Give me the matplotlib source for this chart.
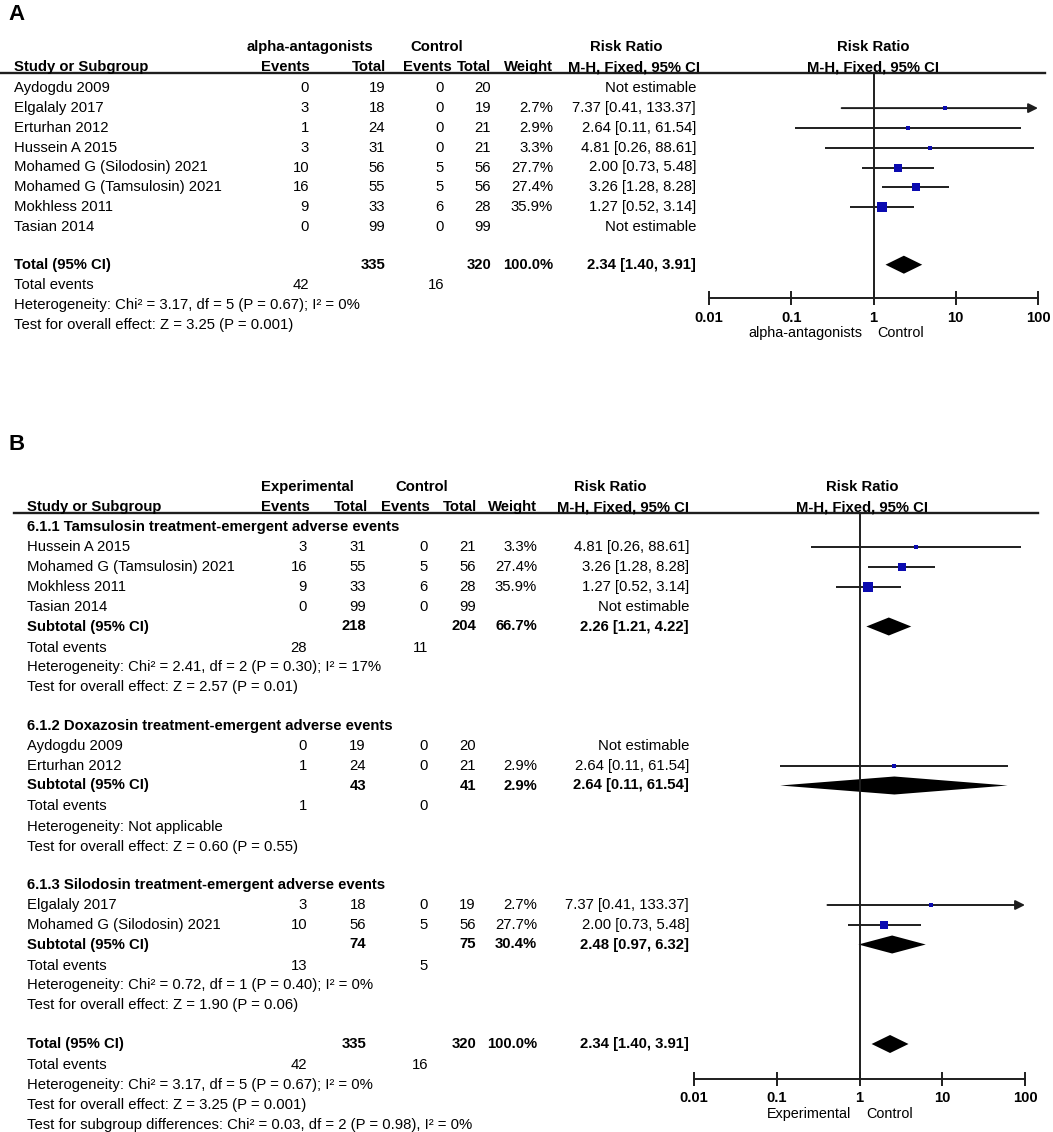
import numpy as np
import matplotlib
matplotlib.use("Agg")
import matplotlib.pyplot as plt

plt.rcParams['font.family'] = ['Liberation Sans', 'DejaVu Sans']

# ---- data (same 8 studies feed both panels) ----
study = ["Aydogdu 2009", "Elgalaly 2017", "Erturhan 2012", "Hussein A 2015",
         "Mohamed G (Silodosin) 2021", "Mohamed G (Tamsulosin) 2021",
         "Mokhless 2011", "Tasian 2014"]
ev_t = [0, 3, 1, 3, 10, 16, 9, 0]
tot_t = [19, 18, 24, 31, 56, 55, 33, 99]
ev_c = [0, 0, 0, 0, 5, 5, 6, 0]
tot_c = [20, 19, 21, 21, 56, 56, 28, 99]
weight = [None, 2.7, 2.9, 3.3, 27.7, 27.4, 35.9, None]
rr = [None, 7.37, 2.64, 4.81, 2.00, 3.26, 1.27, None]
rr_lo = [None, 0.41, 0.11, 0.26, 0.73, 1.28, 0.52, None]
rr_hi = [None, 133.37, 61.54, 88.61, 5.48, 8.28, 3.14, None]

sub_names = ["6.1.1 Tamsulosin treatment-emergent adverse events",
             "6.1.2 Doxazosin treatment-emergent adverse events",
             "6.1.3 Silodosin treatment-emergent adverse events"]
sub_members = [[3, 5, 6, 7], [0, 2], [1, 4]]
sub_tot_t = [218, 43, 74]
sub_tot_c = [204, 41, 75]
sub_weight = [66.7, 2.9, 30.4]
sub_rr = [2.26, 2.64, 2.48]
sub_lo = [1.21, 0.11, 0.97]
sub_hi = [4.22, 61.54, 6.32]
sub_ev_t = [28, 1, 13]
sub_ev_c = [11, 0, 5]
sub_het = ["Heterogeneity: Chi² = 2.41, df = 2 (P = 0.30); I² = 17%",
           "Heterogeneity: Not applicable",
           "Heterogeneity: Chi² = 0.72, df = 1 (P = 0.40); I² = 0%"]
sub_z = ["Test for overall effect: Z = 2.57 (P = 0.01)",
         "Test for overall effect: Z = 0.60 (P = 0.55)",
         "Test for overall effect: Z = 1.90 (P = 0.06)"]

total_t, total_c, total_w = 335, 320, 100.0
total_rr, total_lo, total_hi = 2.34, 1.40, 3.91
total_ev_t, total_ev_c = 42, 16
total_het = "Heterogeneity: Chi² = 3.17, df = 5 (P = 0.67); I² = 0%"
total_z = "Test for overall effect: Z = 3.25 (P = 0.001)"
subgroup_diff = "Test for subgroup differences: Chi² = 0.03, df = 2 (P = 0.98), I² = 0%"

xticks = [0.01, 0.1, 1, 10, 100]
xtick_labels = ["0.01", "0.1", "1", "10", "100"]

W, H = 1053, 1132
FS = 10.7
BLUE = '#0b0bb0'
LINE = '#1e1e1e'
LW = 1.4

fig = plt.figure(figsize=(W / 100, H / 100), dpi=100)
bg = fig.add_axes([0, 0, 1, 1])
bg.set_xlim(0, W)
bg.set_ylim(H, 0)
bg.axis('off')


def txt(x, y, s, ha='left', bold=False, size=FS):
    bg.text(x, y, s, ha=ha, va='center', fontsize=size,
            fontweight='bold' if bold else 'normal', color='black')


def ci_text(r, lo, hi):
    return f"{r:.2f} [{lo:.2f}, {hi:.2f}]"


def forest_axes(x0, x1, ytop, ybot, lab_y, left_lab, lab_mid):
    ax = fig.add_axes([x0 / W, 1 - ybot / H, (x1 - x0) / W, (ybot - ytop) / H])
    ax.set_xscale('log')
    ax.set_xlim(0.01, 100)
    ax.set_ylim(ybot, ytop)
    ax.patch.set_alpha(0)
    for s in ['top', 'left', 'right']:
        ax.spines[s].set_visible(False)
    ax.spines['bottom'].set_linewidth(LW)
    ax.spines['bottom'].set_color(LINE)
    ax.set_yticks([])
    ax.set_xticks(xticks)
    ax.set_xticklabels(xtick_labels, fontweight='bold', fontsize=FS)
    ax.xaxis.set_minor_locator(matplotlib.ticker.NullLocator())
    ax.tick_params(axis='x', direction='inout', length=10, width=LW,
                   color=LINE, pad=4)
    ax.axvline(1, color=LINE, lw=LW)
    txt(lab_mid - 8, lab_y, left_lab, ha='right', size=FS - 0.3)
    txt(lab_mid + 7, lab_y, "Control", size=FS - 0.3)
    return ax


def study_marks(ax, y, i):
    if rr[i] is None:
        return
    if rr_hi[i] > 100:
        ax.annotate('', xy=(100, y), xytext=(rr_lo[i], y), annotation_clip=False,
                    arrowprops=dict(arrowstyle='-|>', lw=LW, color=LINE,
                                    mutation_scale=14, shrinkA=0, shrinkB=0))
    else:
        ax.hlines(y, rr_lo[i], rr_hi[i], color=LINE, lw=LW)
    side = max(1.65 * np.sqrt(weight[i]), 4.0) * 0.72
    ax.scatter([rr[i]], [y], marker='s', s=side ** 2, color=BLUE,
               linewidths=0, zorder=3)


def diamond(ax, y, r, lo, hi, half=9):
    ax.fill([lo, r, hi, r], [y, y - half, y, y + half], color='black', lw=0)


def study_row(y, i, cols):
    txt(cols[0], y, study[i])
    txt(cols[1], y, str(ev_t[i]), 'right')
    txt(cols[2], y, str(tot_t[i]), 'right')
    txt(cols[3], y, str(ev_c[i]), 'right')
    txt(cols[4], y, str(tot_c[i]), 'right')
    if weight[i] is not None:
        txt(cols[5], y, f"{weight[i]:.1f}%", 'right')
        txt(cols[6], y, ci_text(rr[i], rr_lo[i], rr_hi[i]), 'right')
    else:
        txt(cols[6], y, "Not estimable", 'right')


def header(y1, y2, cols, hcols, grp_lab, grp_c, ctl_c, rr_c, fr_c, line_x0, line_x1):
    txt(grp_c, y1, grp_lab, 'center', True)
    txt(ctl_c, y1, "Control", 'center', True)
    txt(rr_c, y1, "Risk Ratio", 'center', True)
    txt(fr_c, y1, "Risk Ratio", 'center', True)
    txt(cols[0], y2, "Study or Subgroup", bold=True)
    for x, s in zip(hcols, ["Events", "Total", "Events", "Total", "Weight",
                            "M-H, Fixed, 95% CI"]):
        txt(x, y2, s, 'right', True)
    txt(fr_c, y2, "M-H, Fixed, 95% CI", 'center', True)
    bg.plot([line_x0, line_x1], [y2 + 5.5, y2 + 5.5], color=LINE, lw=1.7)


# ---------------- Panel A ----------------
txt(8, 15, "A", bold=True, size=16)
colsA = [14, 309, 385, 444, 491, 553, 696]
hcolsA = [310, 386, 452, 491, 553, 700]
header(47, 67, colsA, hcolsA, "alpha-antagonists", 310, 437, 626, 873, 0, 1045)
axA = forest_axes(709, 1038, 72.5, 298, 333, "alpha-antagonists", 870)

y = 88.3
for i in range(len(study)):
    study_row(y, i, colsA)
    study_marks(axA, y, i)
    y += 19.8
y += 18
txt(colsA[0], y, "Total (95% CI)", bold=True)
txt(colsA[2], y, str(total_t), 'right', True)
txt(colsA[4], y, str(total_c), 'right', True)
txt(colsA[5], y, f"{total_w:.1f}%", 'right', True)
txt(colsA[6], y, ci_text(total_rr, total_lo, total_hi), 'right', True)
diamond(axA, y, total_rr, total_lo, total_hi)
y += 20.5
txt(colsA[0], y, "Total events")
txt(colsA[1], y, str(total_ev_t), 'right')
txt(colsA[3], y, str(total_ev_c), 'right')
y += 20
txt(colsA[0], y, total_het)
y += 20
txt(colsA[0], y, total_z)

# ---------------- Panel B ----------------
txt(8, 445, "B", bold=True, size=16)
colsB = [27, 307, 366, 428, 476, 537, 689]
hcolsB = [310, 368, 430, 477, 537, 689]
header(487, 507, colsB, hcolsB, "Experimental", 307, 422, 610, 862, 14, 1038)
axB = forest_axes(694, 1025, 512.5, 1079, 1114, "Experimental", 859)

y = 527
for g in range(len(sub_names)):
    txt(colsB[0], y, sub_names[g], bold=True)
    for i in sub_members[g]:
        y += 20
        study_row(y, i, colsB)
        study_marks(axB, y, i)
    y += 19.5
    txt(colsB[0], y, "Subtotal (95% CI)", bold=True)
    txt(colsB[2], y, str(sub_tot_t[g]), 'right', True)
    txt(colsB[4], y, str(sub_tot_c[g]), 'right', True)
    txt(colsB[5], y, f"{sub_weight[g]:.1f}%", 'right', True)
    txt(colsB[6], y, ci_text(sub_rr[g], sub_lo[g], sub_hi[g]), 'right', True)
    diamond(axB, y, sub_rr[g], sub_lo[g], sub_hi[g])
    y += 21
    txt(colsB[0], y, "Total events")
    txt(colsB[1], y, str(sub_ev_t[g]), 'right')
    txt(colsB[3], y, str(sub_ev_c[g]), 'right')
    y += 20
    txt(colsB[0], y, sub_het[g])
    y += 20
    txt(colsB[0], y, sub_z[g])
    y += 38.5

txt(colsB[0], y, "Total (95% CI)", bold=True)
txt(colsB[2], y, str(total_t), 'right', True)
txt(colsB[4], y, str(total_c), 'right', True)
txt(colsB[5], y, f"{total_w:.1f}%", 'right', True)
txt(colsB[6], y, ci_text(total_rr, total_lo, total_hi), 'right', True)
diamond(axB, y, total_rr, total_lo, total_hi)
y += 21
txt(colsB[0], y, "Total events")
txt(colsB[1], y, str(total_ev_t), 'right')
txt(colsB[3], y, str(total_ev_c), 'right')
y += 20
txt(colsB[0], y, total_het)
y += 20
txt(colsB[0], y, total_z)
y += 20
txt(colsB[0], y, subgroup_diff)

fig.savefig("out.png", dpi=100)
